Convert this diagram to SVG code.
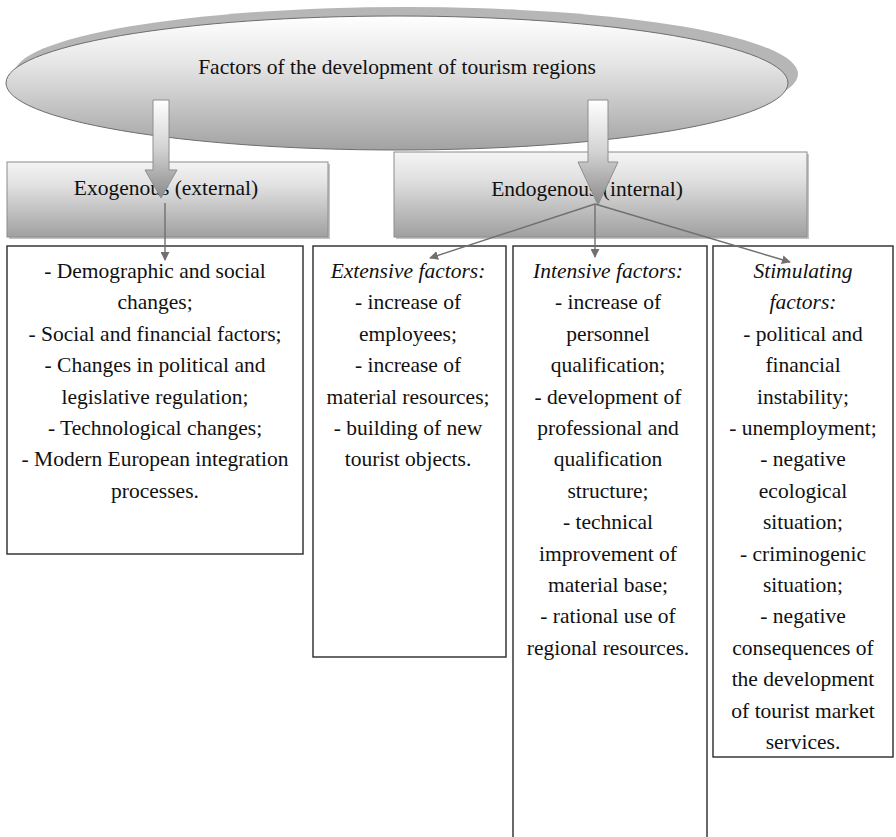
<svg xmlns="http://www.w3.org/2000/svg" width="896" height="837" viewBox="0 0 896 837">
<defs>
<linearGradient id="gEll" x1="0" y1="0" x2="0" y2="1">
<stop offset="0" stop-color="#ffffff"/><stop offset="0.35" stop-color="#e6e6e6"/><stop offset="1" stop-color="#a2a2a2"/>
</linearGradient>
<linearGradient id="gBox" x1="0" y1="0" x2="0" y2="1">
<stop offset="0" stop-color="#f4f4f4"/><stop offset="0.3" stop-color="#e2e2e2"/><stop offset="1" stop-color="#a0a0a0"/>
</linearGradient>
<linearGradient id="gArr" x1="0" y1="0" x2="0" y2="1">
<stop offset="0" stop-color="#ffffff"/><stop offset="0.5" stop-color="#d2d2d2"/><stop offset="1" stop-color="#8a8a8a"/>
</linearGradient>
<marker id="ah" viewBox="0 0 10 10" refX="9" refY="5" markerWidth="9" markerHeight="9" markerUnits="userSpaceOnUse" orient="auto">
<path d="M0,0 L10,5 L0,10 Z" fill="#707070"/>
</marker>
</defs>
<style>
text{font-family:'Liberation Serif','Times New Roman',serif;font-size:21.5px;fill:#111;text-anchor:middle}
.it{font-style:italic}
.list{fill:#fff;stroke:#2a2a2a;stroke-width:1.4}
.hdr{fill:url(#gBox);stroke:#8c8c8c;stroke-width:1}
.sh{fill:#c4c4c4}
.blk{fill:url(#gArr);stroke:#8e8e8e;stroke-width:1}
.con{stroke:#707070;stroke-width:1.4;fill:none;marker-end:url(#ah)}
</style>

<g id="root">
<ellipse cx="406" cy="74" rx="392" ry="67" fill="#b6b6b6"/>
<ellipse cx="397" cy="83" rx="391" ry="67" fill="url(#gEll)" stroke="#6e6e6e" stroke-width="1"/>
<text x="397" y="74">Factors of the development  of tourism regions</text>
</g>

<g id="exogenous">
<rect class="sh" x="9" y="164" width="321" height="75"/>
<rect class="hdr" x="7" y="162" width="321" height="75"/>
<text x="166" y="195">Exogenous  (external)</text>
</g>

<g id="endogenous">
<rect class="sh" x="396" y="154" width="413" height="85"/>
<rect class="hdr" x="394" y="152" width="413" height="85"/>
<text x="587" y="196">Endogenous  (internal)</text>
</g>

<g id="block-arrows">
<path class="blk" d="M153,100 H169 V170 H177 L161,198 L145,170 H153 Z"/>
<path class="blk" d="M588,100 H608 V162 H618 L598,205 L578,162 H588 Z"/>
</g>

<g id="exogenous-list">
<rect class="list" x="7" y="246" width="296" height="308"/>
<text x="155" y="278">- Demographic  and social</text>
<text x="155" y="309.4">changes;</text>
<text x="155" y="340.8">- Social and financial  factors;</text>
<text x="155" y="372.2">- Changes in political  and</text>
<text x="155" y="403.6">legislative  regulation;</text>
<text x="155" y="435">- Technological  changes;</text>
<text x="155" y="466.4">- Modern European integration</text>
<text x="155" y="497.8">processes.</text>
</g>

<g id="extensive">
<rect class="list" x="313" y="246" width="193" height="411"/>
<text class="it" x="408" y="278">Extensive factors:</text>
<text x="408" y="309.4">- increase  of</text>
<text x="408" y="340.8">employees;</text>
<text x="408" y="372.2">- increase  of</text>
<text x="408" y="403.6">material  resources;</text>
<text x="408" y="435">- building  of new</text>
<text x="408" y="466.4">tourist  objects.</text>
</g>

<g id="intensive">
<rect class="list" x="513" y="246" width="194" height="600"/>
<text class="it" x="608" y="278">Intensive factors:</text>
<text x="608" y="309.4">- increase  of</text>
<text x="608" y="340.8">personnel</text>
<text x="608" y="372.2">qualification;</text>
<text x="608" y="403.6">- development  of</text>
<text x="608" y="435">professional  and</text>
<text x="608" y="466.4">qualification</text>
<text x="608" y="497.8">structure;</text>
<text x="608" y="529.2">- technical</text>
<text x="608" y="560.6">improvement  of</text>
<text x="608" y="592">material  base;</text>
<text x="608" y="623.4">- rational  use  of</text>
<text x="608" y="654.8">regional  resources.</text>
</g>

<g id="stimulating">
<rect class="list" x="713" y="246" width="180" height="511"/>
<text class="it" x="803" y="278">Stimulating</text>
<text class="it" x="803" y="309.4">factors:</text>
<text x="803" y="340.8">- political  and</text>
<text x="803" y="372.2">financial</text>
<text x="803" y="403.6">instability;</text>
<text x="803" y="435">- unemployment;</text>
<text x="803" y="466.4">- negative</text>
<text x="803" y="497.8">ecological</text>
<text x="803" y="529.2">situation;</text>
<text x="803" y="560.6">- criminogenic</text>
<text x="803" y="592">situation;</text>
<text x="803" y="623.4">- negative</text>
<text x="803" y="654.8">consequences  of</text>
<text x="803" y="686.2">the  development</text>
<text x="803" y="717.6">of tourist  market</text>
<text x="803" y="749">services.</text>
</g>

<g id="connectors">
<line class="con" x1="165" y1="203" x2="165" y2="260"/>
<line class="con" x1="595" y1="204" x2="430" y2="258"/>
<line class="con" x1="595" y1="204" x2="595" y2="257"/>
<line class="con" x1="595" y1="204" x2="790" y2="262"/>
</g>
</svg>
